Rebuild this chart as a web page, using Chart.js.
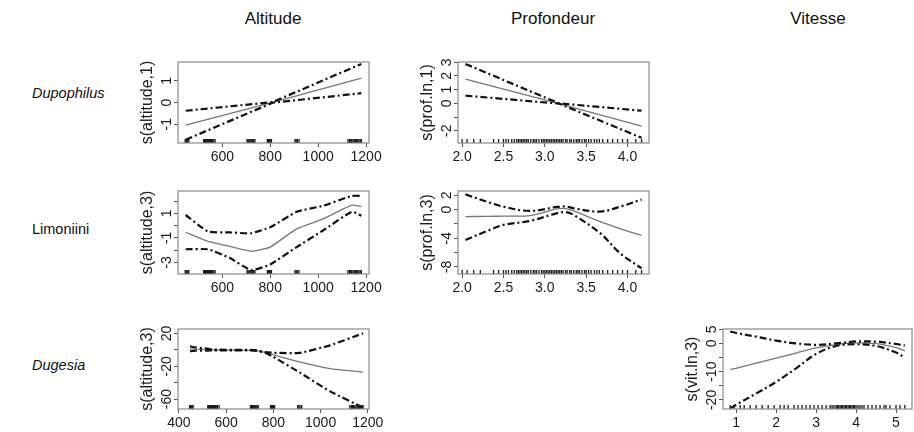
<!DOCTYPE html>
<html lang="fr">
<head>
<meta charset="UTF-8">
<title>Effets lissés GAM</title>
<script src="https://cdn.jsdelivr.net/npm/chart.js@4.4.1/dist/chart.umd.min.js"></script>
<style>
  body { margin:0; width:914px; height:432px; background:#fff; position:relative; overflow:hidden;
         font-family:"Liberation Sans", Arial, sans-serif; color:#111; }
  .t { position:absolute; white-space:nowrap; transform:translate(-50%,-50%); }
  .row { position:absolute; white-space:nowrap; transform:translateY(-50%); font-size:14.5px; }
  canvas { position:absolute; }
</style>
</head>
<body>
<div class="t" style="left:273px;top:19px;font-size:17px">Altitude</div>
<div class="t" style="left:553px;top:19px;font-size:17px">Profondeur</div>
<div class="t" style="left:818px;top:19px;font-size:17px">Vitesse</div>
<div class="row" style="left:32px;top:93px;font-style:italic">Dupophilus</div>
<div class="row" style="left:32px;top:229px">Limoniini</div>
<div class="row" style="left:32px;top:365px;font-style:italic">Dugesia</div>
<script>
// --- data ---
// Dupophilus ~ altitude
const dupAltX   = [447, 810, 1180];
const dupAltFit = [-1.05, 0.01, 1.12];
const dupAltUp  = [-0.38, 0.02, 1.78];
const dupAltLo  = [-1.72, -0.01, 0.43];
// Dupophilus ~ prof
const dupProfX   = [2.04, 3.17, 4.17];
const dupProfFit = [1.76, -0.02, -1.66];
const dupProfUp  = [2.88, 0.0, -0.54];
const dupProfLo  = [0.56, -0.02, -2.52];
// Limoniini ~ altitude
const limAltX   = [447, 540, 630, 720, 800, 910, 1020, 1140, 1180];
const limAltFit = [-0.54, -1.29, -1.69, -2.09, -1.75, -0.26, 0.55, 1.68, 1.56];
const limAltUp  = [0.87, -0.48, -0.55, -0.62, -0.13, 1.13, 1.62, 2.43, 2.43];
const limAltLo  = [-1.93, -1.93, -2.63, -3.63, -3.17, -1.75, -0.40, 1.13, 0.81];
// Limoniini ~ prof
const limProfX   = [2.04, 2.3, 2.5, 2.82, 3.14, 3.25, 3.35, 3.67, 3.91, 4.17];
const limProfFit = [-0.98, -0.95, -0.9, -0.84, 0.09, 0.15, -0.19, -1.68, -2.65, -3.6];
const limProfUp  = [2.13, 1.1, 0.41, -0.19, 0.37, 0.45, 0.18, -0.28, 0.41, 1.4];
const limProfLo  = [-4.24, -3.0, -2.14, -1.59, -0.52, -0.35, -0.75, -3.3, -6.1, -8.2];
// Dugesia ~ altitude
const dugAltX   = [447, 470, 520, 545, 600, 720, 765, 800, 910, 1040, 1180];
const dugAltFit = [1.5, 1.0, 0.3, 0.0, -0.2, -0.5, -3.0, -6.0, -14.6, -22.7, -27.0];
const dugAltUp  = [4.5, 3.0, 1.5, 0.5, 0.2, -0.2, -2.5, -3.5, -3.7, 5.6, 20.2];
const dugAltLo  = [-1.5, -1.0, -0.8, -0.5, -0.6, -0.8, -3.5, -8.5, -27.3, -50.5, -70.3];
// Dugesia ~ vitesse
const dugVitX   = [0.85, 1.0, 1.5, 2.0, 2.5, 3.0, 3.5, 4.0, 4.5, 5.0, 5.22];
const dugVitFit = [-9.2, -8.8, -7.0, -5.2, -3.4, -1.6, -0.4, 0.2, -0.1, -1.5, -2.6];
const dugVitUp  = [4.2, 3.7, 2.4, 1.0, 0.0, -0.5, 0.0, 0.7, 0.6, -0.2, -0.8];
const dugVitLo  = [-23.0, -21.7, -17.7, -13.6, -8.8, -3.7, -0.9, -0.3, -0.9, -3.2, -5.0];

// rugs (observed covariate values)
const altRug = [445, 448, 452, 456, 460, 522, 526, 530, 534, 538, 542, 546, 550, 554, 558, 563, 570,
  703, 707, 711, 715, 719, 723, 727, 731, 736, 788, 792, 796, 800, 805, 903, 908, 913, 920,
  1124, 1130, 1135, 1140, 1145, 1150, 1155, 1160, 1165, 1170, 1175, 1180];
const profRug = [2.0, 2.06, 2.14, 2.22, 2.38, 2.44, 2.5, 2.53, 2.56, 2.6, 2.63, 2.66, 2.68, 2.7, 2.72, 2.74,
  2.76, 2.78, 2.8, 2.83, 2.86, 2.88, 2.9, 2.93, 2.96, 2.98, 3.0, 3.02, 3.04, 3.06, 3.08, 3.1, 3.12, 3.14,
  3.16, 3.18, 3.2, 3.22, 3.25, 3.27, 3.3, 3.32, 3.35, 3.38, 3.4, 3.42, 3.45, 3.48, 3.5, 3.53, 3.56, 3.6,
  3.63, 3.66, 3.7, 3.76, 3.82, 3.88, 3.94, 4.0, 4.1, 4.17];
const vitRug = [0.85, 0.95, 1.1, 1.2, 1.35, 1.5, 1.65, 1.8, 1.95, 2.1, 2.2, 2.3, 2.45, 2.55, 2.65, 2.75, 2.85,
  2.95, 3.05, 3.15, 3.25, 3.35, 3.4, 3.45, 3.5, 3.53, 3.56, 3.6, 3.63, 3.66, 3.7, 3.73, 3.76, 3.8, 3.83,
  3.86, 3.9, 3.93, 3.96, 4.0, 4.05, 4.1, 4.15, 4.2, 4.3, 4.4, 4.5, 4.6, 4.7, 4.75, 4.85, 5.0, 5.1, 5.22];

// tick values and the labels R kept (overlapping ones dropped)
const altTicks = [600, 800, 1000, 1200];
const altTicks5 = [400, 600, 800, 1000, 1200];
const profTicks = [2.0, 2.5, 3.0, 3.5, 4.0];
const vitTicks = [1, 2, 3, 4, 5];

const panels = [
  { box:[178, 62, 369, 143], ylab:'s(altitude,1)', x:dupAltX, fit:dupAltFit, up:dupAltUp, lo:dupAltLo, rug:altRug,
    xr:[415, 1212], xt:altTicks, dec:0, yr:[-1.87, 1.87], yt:[-1, 0, 1], yl:[-1, 0, 1], tension:0 },
  { box:[458, 62, 649, 143], ylab:'s(prof.ln,1)', x:dupProfX, fit:dupProfFit, up:dupProfUp, lo:dupProfLo, rug:profRug,
    xr:[1.95, 4.26], xt:profTicks, dec:1, yr:[-2.9, 3.02], yt:[-2, -1, 0, 1, 2, 3], yl:[-2, 0, 1, 2, 3], tension:0 },
  { box:[178, 191, 369, 274], ylab:'s(altitude,3)', x:limAltX, fit:limAltFit, up:limAltUp, lo:limAltLo, rug:altRug,
    xr:[415, 1212], xt:altTicks, dec:0, yr:[-3.95, 2.83], yt:[-3, -2, -1, 0, 1, 2], yl:[-3, -1, 1], tension:0.15 },
  { box:[458, 191, 649, 274], ylab:'s(prof.ln,3)', x:limProfX, fit:limProfFit, up:limProfUp, lo:limProfLo, rug:profRug,
    xr:[1.95, 4.26], xt:profTicks, dec:1, yr:[-9, 2.6], yt:[-8, -6, -4, -2, 0, 2], yl:[-8, -4, 0, 2], tension:0.35 },
  { box:[178, 329, 369, 409], ylab:'s(altitude,3)', x:dugAltX, fit:dugAltFit, up:dugAltUp, lo:dugAltLo, rug:altRug,
    xr:[396, 1205], xt:altTicks5, dec:0, yr:[-72, 25.5], yt:[-60, -40, -20, 0, 20], yl:[-60, -20, 20], tension:0.15 },
  { box:[723, 329, 912, 409], ylab:'s(vit.ln,3)', x:dugVitX, fit:dugVitFit, up:dugVitUp, lo:dugVitLo, rug:vitRug,
    xr:[0.67, 5.4], xt:vitTicks, dec:0, yr:[-23.2, 5.1], yt:[-20, -15, -10, -5, 0, 5], yl:[-20, -10, 0, 5], tension:0.35 }
];

const FONT = '"Liberation Sans", Arial, sans-serif';
const LEFT = 62, TOP = 6, RIGHT = 22, BOTTOM = 34;

// box round the plot region + rotated y labels like R
const rStyle = {
  id: 'rStyle',
  afterDraw(chart, args, o) {
    const { ctx, chartArea: a, scales: { y } } = chart;
    ctx.save();
    ctx.strokeStyle = '#8a8a8a';
    ctx.lineWidth = 1.2;
    ctx.strokeRect(a.left, a.top, a.right - a.left, a.bottom - a.top);
    ctx.fillStyle = '#1a1a1a';
    ctx.textAlign = 'center';
    ctx.textBaseline = 'middle';
    ctx.font = '14px ' + FONT;
    o.labels.forEach(v => {
      ctx.save();
      ctx.translate(a.left - 11, y.getPixelForValue(v));
      ctx.rotate(-Math.PI / 2);
      ctx.fillText(String(v), 0, 0);
      ctx.restore();
    });
    ctx.font = '16px ' + FONT;
    ctx.translate(a.left - 30, (a.top + a.bottom) / 2);
    ctx.rotate(-Math.PI / 2);
    ctx.fillText(o.title, 0, 0);
    ctx.restore();
  }
};

function pts(xs, ys) { return xs.map((x, i) => ({ x: x, y: ys[i] })); }

panels.forEach(p => {
  const w = p.box[2] - p.box[0] + LEFT + RIGHT;
  const h = p.box[3] - p.box[1] + TOP + BOTTOM;
  const cv = document.createElement('canvas');
  cv.width = w; cv.height = h;
  cv.style.left = (p.box[0] - LEFT) + 'px';
  cv.style.top = (p.box[1] - TOP) + 'px';
  cv.style.width = w + 'px'; cv.style.height = h + 'px';
  document.body.appendChild(cv);

  const band = { showLine: true, pointRadius: 0, borderColor: '#111', borderWidth: 2.2,
                 borderDash: [7, 3, 2, 3], tension: p.tension };
  new Chart(cv, {
    type: 'scatter',
    data: {
      datasets: [
        { data: pts(p.rug, p.rug.map(() => p.yr[0])), pointStyle: 'line', rotation: 90, pointRadius: 4,
          borderColor: '#1a1a1a', borderWidth: 1.3, backgroundColor: '#1a1a1a' },
        Object.assign({ data: pts(p.x, p.up) }, band),
        Object.assign({ data: pts(p.x, p.lo) }, band),
        { data: pts(p.x, p.fit), showLine: true, pointRadius: 0, borderColor: '#777', borderWidth: 1.3,
          tension: p.tension }
      ]
    },
    options: {
      responsive: false,
      animation: false,
      events: [],
      layout: { padding: { left: 0, top: TOP, right: RIGHT, bottom: 0 } },
      plugins: { legend: { display: false }, tooltip: { enabled: false }, rStyle: { labels: p.yl, title: p.ylab } },
      scales: {
        x: {
          type: 'linear', min: p.xr[0], max: p.xr[1],
          afterBuildTicks: s => { s.ticks = p.xt.map(v => ({ value: v })); },
          afterFit: s => { s.height = BOTTOM; s.paddingLeft = 0; s.paddingRight = 0; },
          ticks: { font: { size: 14, family: FONT }, color: '#1a1a1a', padding: 2, maxRotation: 0,
                   callback: v => v.toFixed(p.dec) },
          grid: { drawOnChartArea: false, drawTicks: true, tickLength: 4, color: '#555' },
          border: { display: false }
        },
        y: {
          type: 'linear', min: p.yr[0], max: p.yr[1],
          afterBuildTicks: s => { s.ticks = p.yt.map(v => ({ value: v })); },
          afterFit: s => { s.width = LEFT; s.paddingTop = 0; s.paddingBottom = 0; },
          ticks: { display: false },
          grid: { drawOnChartArea: false, drawTicks: true, tickLength: 4, color: '#555' },
          border: { display: false }
        }
      }
    },
    plugins: [rStyle]
  });
});
</script>
</body>
</html>
